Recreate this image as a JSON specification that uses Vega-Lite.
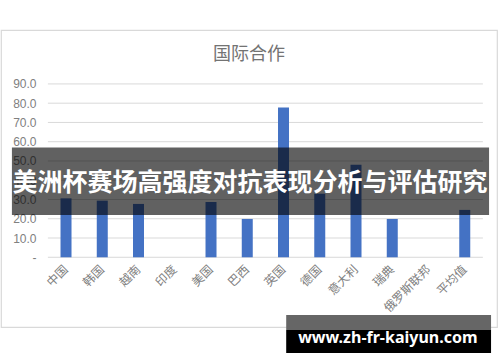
{
  "$schema": "https://vega.github.io/schema/vega-lite/v6.json",
  "width": 496,
  "height": 297,
  "autosize": {"type": "none"},
  "padding": {"left": 1, "top": 30, "right": 3, "bottom": 35},
  "background": "white",
  "config": {
    "view": {"stroke": "#d9d9d9", "strokeWidth": 1.2},
    "font": "Noto Sans CJK SC",
    "axisY": {"labelOverlap": false, "labelSeparation": 0}
  },
  "title": {
    "text": "国际合作",
    "font": "Noto Sans CJK SC",
    "fontSize": 18,
    "fontWeight": "normal",
    "color": "#737373",
    "anchor": "middle",
    "baseline": "alphabetic",
    "offset": -48
  },
  "datasets": {
    "countries": [
      {"country": "中国", "value": 30.6},
      {"country": "韩国", "value": 29.4},
      {"country": "越南", "value": 27.7},
      {"country": "印度", "value": 0},
      {"country": "美国", "value": 28.7},
      {"country": "巴西", "value": 19.9},
      {"country": "英国", "value": 77.7},
      {"country": "德国", "value": 33.0},
      {"country": "意大利", "value": 48.0},
      {"country": "瑞典", "value": 19.9},
      {"country": "俄罗斯联邦", "value": 0},
      {"country": "平均值", "value": 24.6}
    ],
    "gridlines": [
      {"value": 0}, {"value": 10}, {"value": 20}, {"value": 30}, {"value": 40},
      {"value": 50}, {"value": 60}, {"value": 70}, {"value": 80}, {"value": 90}
    ]
  },
  "resolve": {"scale": {"x": "independent", "y": "independent"}},
  "layer": [
    {
      "layer": [
        {
          "data": {"name": "gridlines"},
          "mark": {"type": "rule", "color": "#d9d9d9", "strokeWidth": 1},
          "encoding": {
            "y": {
              "field": "value",
              "type": "quantitative",
              "scale": {"domain": [-36.2, 118], "nice": false, "zero": false},
              "axis": {
                "title": null,
                "values": [0, 10, 20, 30, 40, 50, 60, 70, 80, 90],
                "grid": false,
                "domain": false,
                "ticks": false,
                "tickSize": 0,
                "offset": -35,
                "labelPadding": 0,
                "labelOverlap": false,
                "labelFont": "Liberation Sans",
                "labelFontSize": 12,
                "labelColor": "#808080",
                "labelExpr": "datum.value == 0 ? '-\u00a0\u00a0\u00a0' : format(datum.value, '.1f')"
              }
            },
            "x": {"datum": "中国", "type": "nominal", "bandPosition": -0.232},
            "x2": {"datum": "平均值", "bandPosition": 1.232}
          }
        },
        {
          "data": {"name": "countries"},
          "mark": {"type": "bar", "color": "#4472C4", "size": 11},
          "encoding": {
            "x": {
              "field": "country",
              "type": "nominal",
              "scale": {
                "domain": ["中国", "韩国", "越南", "印度", "美国", "巴西", "英国", "德国", "意大利", "瑞典", "俄罗斯联邦", "平均值"],
                "paddingInner": 0.317,
                "paddingOuter": 1,
                "align": 0.726
              },
              "axis": {
                "title": null,
                "offset": -70,
                "domain": false,
                "ticks": false,
                "labelAngle": -45,
                "labelAlign": "right",
                "labelBaseline": "middle",
                "labelPadding": 10,
                "labelFont": "Noto Sans CJK SC",
                "labelFontSize": 12,
                "labelColor": "#808080"
              }
            },
            "y": {
              "field": "value",
              "type": "quantitative",
              "scale": {"domain": [-36.2, 118], "nice": false, "zero": false},
              "axis": {
                "title": null,
                "values": [0, 10, 20, 30, 40, 50, 60, 70, 80, 90],
                "grid": false,
                "domain": false,
                "ticks": false,
                "tickSize": 0,
                "offset": -35,
                "labelPadding": 0,
                "labelOverlap": false,
                "labelFont": "Liberation Sans",
                "labelFontSize": 12,
                "labelColor": "#808080",
                "labelExpr": "datum.value == 0 ? '-\u00a0\u00a0\u00a0' : format(datum.value, '.1f')"
              }
            }
          }
        }
      ]
    },
    {
      "data": {"values": [{}]},
      "layer": [
        {
          "mark": {"type": "rect", "color": "black", "opacity": 0.62},
          "encoding": {
            "x": {"datum": 2.2, "type": "quantitative", "scale": {"domain": [0, 100], "nice": false, "zero": false}, "axis": null},
            "x2": {"datum": 98.4},
            "y": {"datum": 57, "type": "quantitative", "scale": {"domain": [-36.2, 118], "nice": false, "zero": false}, "axis": null},
            "y2": {"datum": 22}
          }
        },
        {
          "mark": {"type": "text", "color": "white", "font": "Noto Sans CJK SC", "fontSize": 25, "fontWeight": "bold", "baseline": "middle", "align": "center"},
          "encoding": {
            "x": {"datum": 50.2, "type": "quantitative"},
            "y": {"datum": 38.4, "type": "quantitative"},
            "text": {"value": "美洲杯赛场高强度对抗表现分析与评估研究"}
          }
        },
        {
          "mark": {"type": "rect", "color": "#666666"},
          "encoding": {
            "x": {"datum": 57.5, "type": "quantitative"},
            "x2": {"datum": 98.8},
            "y": {"datum": -30.0, "type": "quantitative"},
            "y2": {"datum": -37.8}
          }
        },
        {
          "mark": {"type": "rect", "color": "black"},
          "encoding": {
            "x": {"datum": 57.5, "type": "quantitative"},
            "x2": {"datum": 98.8},
            "y": {"datum": -37.8, "type": "quantitative"},
            "y2": {"datum": -49.7}
          }
        },
        {
          "mark": {"type": "text", "color": "white", "font": "Noto Sans", "fontSize": 16, "fontWeight": "bold", "baseline": "alphabetic", "align": "center"},
          "encoding": {
            "x": {"datum": 78.0, "type": "quantitative"},
            "y": {"datum": -44.5, "type": "quantitative"},
            "text": {"value": "www.zh-fr-kaiyun.com"}
          }
        }
      ]
    }
  ]
}
